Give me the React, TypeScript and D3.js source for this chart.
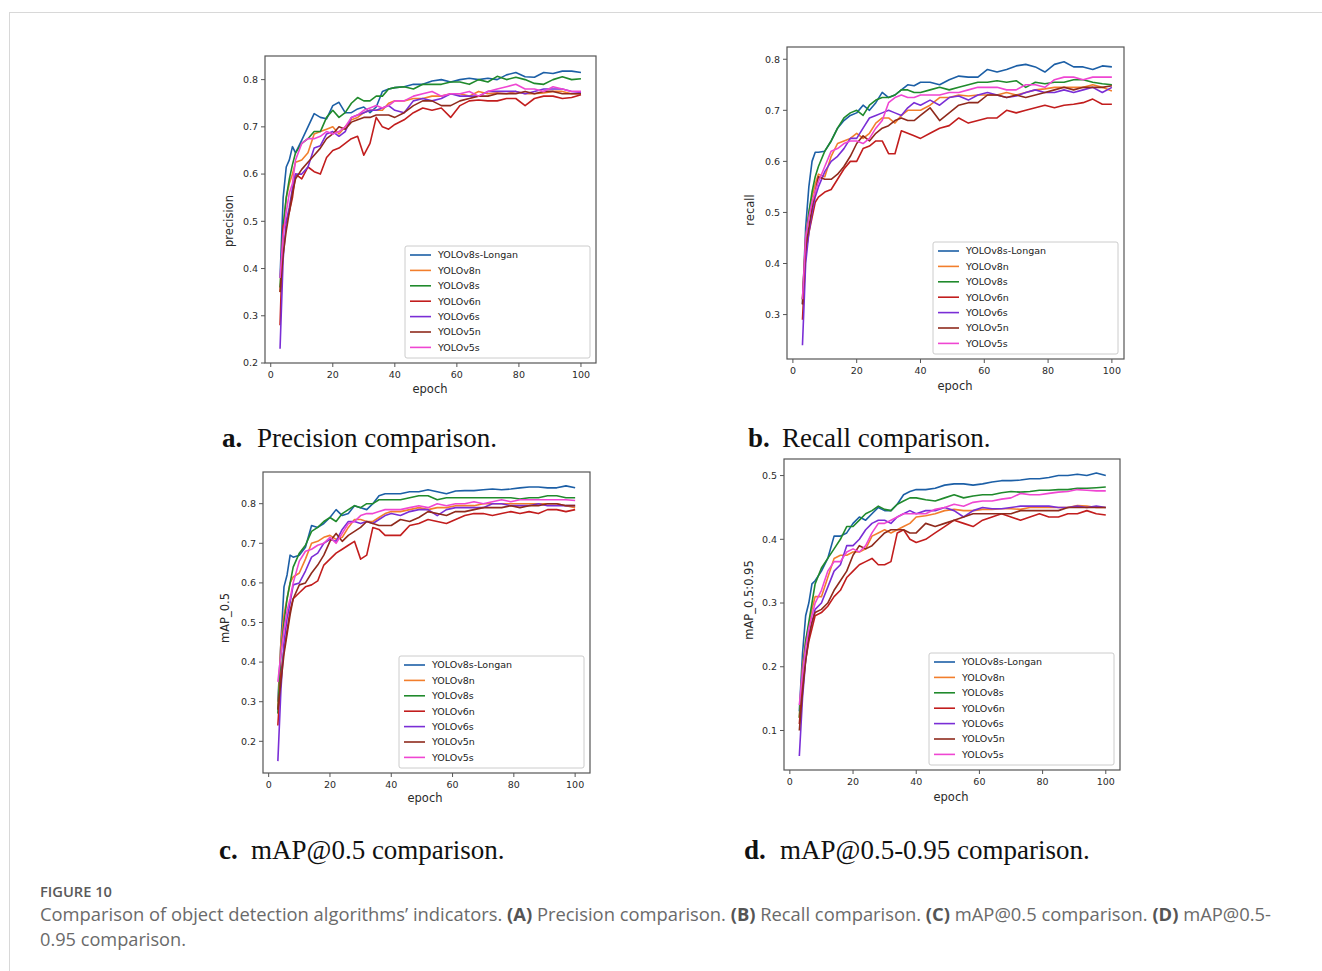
import React from 'react';
import * as d3 from 'd3';

// epochs sampled from the curves (first point is epoch 3)
const EPOCHS = [3, 4, 5, 6, 7, 8,
  10, 12, 14, 16, 18, 20, 22, 24, 26, 28, 30, 32, 34, 36, 38, 40,
  43, 46, 49, 52, 55, 58, 61, 64, 67, 70, 73, 76, 79, 82, 85, 88, 91, 94, 97, 100];

const MODELS = ['YOLOv8s-Longan', 'YOLOv8n', 'YOLOv8s', 'YOLOv6n', 'YOLOv6s', 'YOLOv5n', 'YOLOv5s'];
const COLORS = ['#1c5fa6', '#f27e2c', '#208a2c', '#c21d1d', '#7a2ed6', '#8f2a1c', '#ef46d2'];

const X_TICKS = [0, 20, 40, 60, 80, 100];

// one row per model, same order as MODELS
const PRECISION = [
  [0.38, 0.55, 0.615, 0.63, 0.658, 0.645, 0.672, 0.70, 0.728, 0.72, 0.717, 0.745, 0.752, 0.73, 0.73, 0.738, 0.742, 0.73, 0.742, 0.775, 0.78, 0.783, 0.785, 0.79, 0.79, 0.797, 0.80, 0.795, 0.80, 0.803, 0.80, 0.803, 0.80, 0.81, 0.815, 0.806, 0.805, 0.815, 0.813, 0.818, 0.818, 0.815],
  [0.35, 0.48, 0.55, 0.58, 0.60, 0.625, 0.63, 0.645, 0.685, 0.69, 0.695, 0.70, 0.685, 0.70, 0.715, 0.72, 0.73, 0.735, 0.735, 0.735, 0.75, 0.755, 0.755, 0.76, 0.76, 0.765, 0.765, 0.77, 0.77, 0.765, 0.775, 0.77, 0.772, 0.77, 0.775, 0.77, 0.77, 0.772, 0.775, 0.775, 0.77, 0.77],
  [0.36, 0.49, 0.55, 0.59, 0.62, 0.645, 0.665, 0.675, 0.69, 0.69, 0.72, 0.735, 0.72, 0.73, 0.75, 0.762, 0.755, 0.755, 0.765, 0.765, 0.78, 0.783, 0.785, 0.78, 0.79, 0.79, 0.79, 0.795, 0.795, 0.79, 0.80, 0.795, 0.807, 0.80, 0.805, 0.80, 0.792, 0.79, 0.80, 0.806, 0.80, 0.802],
  [0.28, 0.49, 0.50, 0.52, 0.55, 0.60, 0.59, 0.615, 0.605, 0.60, 0.635, 0.65, 0.655, 0.665, 0.675, 0.68, 0.64, 0.665, 0.72, 0.70, 0.695, 0.705, 0.715, 0.73, 0.74, 0.735, 0.74, 0.72, 0.745, 0.755, 0.757, 0.755, 0.755, 0.76, 0.76, 0.745, 0.76, 0.765, 0.765, 0.76, 0.762, 0.768],
  [0.23, 0.42, 0.50, 0.53, 0.57, 0.60, 0.60, 0.615, 0.655, 0.66, 0.685, 0.69, 0.68, 0.69, 0.72, 0.725, 0.73, 0.735, 0.735, 0.74, 0.745, 0.735, 0.73, 0.755, 0.76, 0.755, 0.76, 0.77, 0.765, 0.765, 0.765, 0.775, 0.775, 0.775, 0.775, 0.77, 0.775, 0.78, 0.78, 0.78, 0.775, 0.773],
  [0.35, 0.43, 0.48, 0.52, 0.56, 0.59, 0.61, 0.625, 0.64, 0.655, 0.675, 0.685, 0.70, 0.695, 0.71, 0.715, 0.72, 0.72, 0.725, 0.725, 0.725, 0.72, 0.73, 0.745, 0.755, 0.755, 0.745, 0.745, 0.755, 0.76, 0.765, 0.765, 0.77, 0.77, 0.77, 0.775, 0.77, 0.775, 0.775, 0.77, 0.77, 0.77],
  [0.38, 0.47, 0.52, 0.56, 0.58, 0.63, 0.665, 0.675, 0.675, 0.68, 0.69, 0.685, 0.69, 0.70, 0.72, 0.725, 0.735, 0.74, 0.745, 0.74, 0.745, 0.755, 0.755, 0.765, 0.77, 0.775, 0.765, 0.77, 0.77, 0.775, 0.765, 0.775, 0.78, 0.785, 0.79, 0.78, 0.78, 0.775, 0.785, 0.78, 0.775, 0.775],
];

const RECALL = [
  [0.32, 0.47, 0.55, 0.60, 0.618, 0.618, 0.62, 0.64, 0.665, 0.68, 0.69, 0.695, 0.71, 0.70, 0.715, 0.735, 0.725, 0.73, 0.74, 0.75, 0.748, 0.755, 0.755, 0.75, 0.76, 0.767, 0.765, 0.765, 0.78, 0.775, 0.78, 0.787, 0.79, 0.785, 0.775, 0.79, 0.795, 0.785, 0.785, 0.78, 0.787, 0.785],
  [0.33, 0.45, 0.50, 0.53, 0.555, 0.575, 0.57, 0.61, 0.635, 0.64, 0.645, 0.655, 0.645, 0.655, 0.675, 0.685, 0.685, 0.675, 0.69, 0.70, 0.70, 0.70, 0.71, 0.725, 0.725, 0.73, 0.728, 0.73, 0.73, 0.73, 0.735, 0.73, 0.735, 0.74, 0.742, 0.745, 0.745, 0.745, 0.745, 0.75, 0.745, 0.738],
  [0.33, 0.44, 0.50, 0.54, 0.57, 0.59, 0.62, 0.64, 0.665, 0.685, 0.695, 0.70, 0.69, 0.71, 0.72, 0.725, 0.725, 0.73, 0.74, 0.74, 0.735, 0.735, 0.74, 0.745, 0.74, 0.745, 0.75, 0.755, 0.755, 0.758, 0.755, 0.758, 0.745, 0.755, 0.752, 0.755, 0.755, 0.76, 0.76, 0.755, 0.752, 0.75],
  [0.29, 0.42, 0.46, 0.49, 0.52, 0.53, 0.54, 0.545, 0.565, 0.585, 0.60, 0.60, 0.625, 0.63, 0.64, 0.64, 0.615, 0.615, 0.66, 0.655, 0.65, 0.645, 0.655, 0.665, 0.67, 0.685, 0.675, 0.68, 0.685, 0.685, 0.70, 0.695, 0.70, 0.705, 0.71, 0.705, 0.71, 0.712, 0.715, 0.722, 0.712, 0.712],
  [0.24, 0.40, 0.46, 0.50, 0.53, 0.55, 0.58, 0.60, 0.61, 0.625, 0.645, 0.645, 0.665, 0.685, 0.69, 0.695, 0.70, 0.695, 0.69, 0.705, 0.715, 0.71, 0.72, 0.71, 0.725, 0.728, 0.72, 0.73, 0.735, 0.73, 0.725, 0.728, 0.735, 0.74, 0.735, 0.735, 0.74, 0.735, 0.74, 0.745, 0.735, 0.745],
  [0.32, 0.43, 0.47, 0.51, 0.54, 0.57, 0.565, 0.565, 0.575, 0.59, 0.61, 0.635, 0.65, 0.64, 0.655, 0.665, 0.67, 0.68, 0.685, 0.68, 0.68, 0.69, 0.705, 0.68, 0.695, 0.71, 0.715, 0.715, 0.73, 0.73, 0.725, 0.73, 0.725, 0.73, 0.735, 0.74, 0.745, 0.74, 0.745, 0.745, 0.745, 0.748],
  [0.33, 0.45, 0.49, 0.52, 0.54, 0.56, 0.59, 0.62, 0.625, 0.635, 0.64, 0.64, 0.635, 0.645, 0.665, 0.68, 0.715, 0.725, 0.73, 0.725, 0.725, 0.73, 0.73, 0.73, 0.735, 0.735, 0.74, 0.745, 0.745, 0.745, 0.74, 0.74, 0.75, 0.75, 0.745, 0.76, 0.765, 0.765, 0.76, 0.765, 0.765, 0.765],
];

const MAP50 = [
  [0.30, 0.45, 0.59, 0.62, 0.67, 0.665, 0.67, 0.69, 0.745, 0.74, 0.75, 0.765, 0.785, 0.77, 0.775, 0.795, 0.79, 0.785, 0.80, 0.82, 0.825, 0.825, 0.825, 0.83, 0.83, 0.835, 0.83, 0.825, 0.832, 0.833, 0.833, 0.835, 0.837, 0.835, 0.837, 0.84, 0.842, 0.842, 0.84, 0.84, 0.845, 0.84],
  [0.28, 0.45, 0.52, 0.56, 0.60, 0.615, 0.625, 0.66, 0.70, 0.705, 0.715, 0.72, 0.71, 0.715, 0.74, 0.76, 0.76, 0.755, 0.755, 0.765, 0.775, 0.78, 0.78, 0.785, 0.79, 0.785, 0.79, 0.79, 0.795, 0.795, 0.795, 0.80, 0.80, 0.80, 0.80, 0.80, 0.80, 0.80, 0.80, 0.80, 0.795, 0.79],
  [0.27, 0.42, 0.50, 0.56, 0.60, 0.64, 0.675, 0.695, 0.73, 0.74, 0.755, 0.765, 0.755, 0.775, 0.785, 0.795, 0.79, 0.80, 0.80, 0.81, 0.81, 0.81, 0.81, 0.815, 0.82, 0.82, 0.81, 0.815, 0.815, 0.815, 0.815, 0.815, 0.815, 0.815, 0.815, 0.812, 0.815, 0.815, 0.82, 0.82, 0.815, 0.815],
  [0.24, 0.37, 0.43, 0.48, 0.53, 0.56, 0.575, 0.59, 0.595, 0.605, 0.645, 0.66, 0.675, 0.685, 0.695, 0.705, 0.66, 0.67, 0.74, 0.735, 0.72, 0.72, 0.72, 0.745, 0.75, 0.76, 0.755, 0.75, 0.76, 0.77, 0.775, 0.775, 0.77, 0.775, 0.78, 0.775, 0.78, 0.775, 0.785, 0.785, 0.78, 0.785],
  [0.15, 0.33, 0.45, 0.51, 0.55, 0.595, 0.60, 0.63, 0.665, 0.675, 0.70, 0.71, 0.705, 0.735, 0.755, 0.755, 0.75, 0.755, 0.75, 0.76, 0.77, 0.775, 0.77, 0.78, 0.785, 0.785, 0.77, 0.785, 0.79, 0.79, 0.79, 0.79, 0.80, 0.80, 0.795, 0.795, 0.795, 0.80, 0.795, 0.795, 0.795, 0.795],
  [0.28, 0.35, 0.42, 0.47, 0.52, 0.56, 0.595, 0.60, 0.625, 0.645, 0.67, 0.705, 0.725, 0.705, 0.72, 0.73, 0.74, 0.755, 0.75, 0.745, 0.745, 0.745, 0.76, 0.755, 0.765, 0.78, 0.775, 0.77, 0.78, 0.78, 0.785, 0.79, 0.79, 0.79, 0.795, 0.79, 0.795, 0.795, 0.80, 0.80, 0.795, 0.795],
  [0.35, 0.42, 0.48, 0.53, 0.56, 0.60, 0.655, 0.68, 0.685, 0.695, 0.70, 0.715, 0.70, 0.725, 0.75, 0.755, 0.77, 0.775, 0.775, 0.78, 0.785, 0.785, 0.785, 0.79, 0.795, 0.79, 0.80, 0.795, 0.80, 0.80, 0.805, 0.80, 0.805, 0.81, 0.805, 0.81, 0.81, 0.81, 0.81, 0.81, 0.81, 0.808],
];

const MAP5095 = [
  [0.13, 0.22, 0.28, 0.30, 0.33, 0.335, 0.35, 0.37, 0.405, 0.405, 0.41, 0.425, 0.435, 0.43, 0.44, 0.45, 0.445, 0.445, 0.455, 0.47, 0.475, 0.478, 0.478, 0.48, 0.485, 0.487, 0.487, 0.485, 0.487, 0.49, 0.492, 0.492, 0.493, 0.495, 0.495, 0.497, 0.50, 0.50, 0.502, 0.50, 0.504, 0.50],
  [0.12, 0.20, 0.24, 0.265, 0.29, 0.31, 0.31, 0.34, 0.37, 0.375, 0.375, 0.38, 0.38, 0.385, 0.405, 0.41, 0.415, 0.41, 0.415, 0.42, 0.425, 0.435, 0.437, 0.44, 0.445, 0.447, 0.445, 0.445, 0.447, 0.447, 0.448, 0.448, 0.447, 0.45, 0.45, 0.45, 0.45, 0.45, 0.453, 0.452, 0.45, 0.45],
  [0.12, 0.19, 0.24, 0.27, 0.30, 0.33, 0.355, 0.37, 0.385, 0.40, 0.42, 0.42, 0.43, 0.44, 0.445, 0.452, 0.447, 0.445, 0.455, 0.46, 0.465, 0.465, 0.462, 0.46, 0.465, 0.47, 0.465, 0.468, 0.47, 0.47, 0.473, 0.475, 0.474, 0.475, 0.477, 0.477, 0.478, 0.478, 0.48, 0.48, 0.481, 0.482],
  [0.11, 0.17, 0.21, 0.24, 0.26, 0.28, 0.285, 0.295, 0.31, 0.32, 0.34, 0.35, 0.36, 0.365, 0.37, 0.36, 0.36, 0.365, 0.41, 0.415, 0.40, 0.395, 0.40, 0.41, 0.42, 0.43, 0.425, 0.42, 0.43, 0.435, 0.44, 0.435, 0.43, 0.435, 0.44, 0.435, 0.435, 0.44, 0.44, 0.445, 0.44, 0.438],
  [0.06, 0.15, 0.21, 0.25, 0.27, 0.29, 0.30, 0.325, 0.35, 0.36, 0.39, 0.39, 0.40, 0.415, 0.425, 0.43, 0.43, 0.425, 0.435, 0.44, 0.445, 0.44, 0.445, 0.445, 0.45, 0.445, 0.435, 0.445, 0.45, 0.448, 0.448, 0.45, 0.452, 0.452, 0.452, 0.452, 0.45, 0.45, 0.452, 0.45, 0.452, 0.45],
  [0.10, 0.16, 0.21, 0.245, 0.27, 0.285, 0.29, 0.30, 0.32, 0.335, 0.35, 0.375, 0.39, 0.385, 0.39, 0.40, 0.41, 0.415, 0.415, 0.415, 0.41, 0.41, 0.425, 0.42, 0.425, 0.43, 0.435, 0.44, 0.44, 0.44, 0.44, 0.44, 0.445, 0.445, 0.445, 0.445, 0.445, 0.45, 0.45, 0.45, 0.45, 0.45],
  [0.14, 0.19, 0.23, 0.26, 0.28, 0.30, 0.32, 0.35, 0.365, 0.365, 0.38, 0.385, 0.38, 0.39, 0.41, 0.425, 0.425, 0.43, 0.435, 0.44, 0.44, 0.44, 0.44, 0.447, 0.45, 0.455, 0.452, 0.458, 0.46, 0.46, 0.463, 0.465, 0.472, 0.47, 0.47, 0.472, 0.474, 0.475, 0.478, 0.477, 0.476, 0.476],
];

const PANELS = [
  {
    key: 'a', data: PRECISION, box: { x: 265, y: 56, w: 331, h: 307 }, xDomain: [-1.85, 104.85],
    yDomain: [0.2, 0.85], yTicks: [0.2, 0.3, 0.4, 0.5, 0.6, 0.7, 0.8], yLabel: 'precision', yLabelAt: [229, 221],
    xLabelAt: [430, 393], letter: 'a.', caption: 'Precision comparison.', capAt: [222, 447], capGap: 35,
  },
  {
    key: 'b', data: RECALL, box: { x: 787, y: 47, w: 337, h: 312 }, xDomain: [-1.85, 103.8],
    yDomain: [0.213, 0.824], yTicks: [0.3, 0.4, 0.5, 0.6, 0.7, 0.8], yLabel: 'recall', yLabelAt: [750, 210],
    xLabelAt: [955, 390], letter: 'b.', caption: 'Recall comparison.', capAt: [748, 447], capGap: 34,
  },
  {
    key: 'c', data: MAP50, box: { x: 263, y: 472, w: 327, h: 301 }, xDomain: [-1.85, 104.85],
    yDomain: [0.12, 0.88], yTicks: [0.2, 0.3, 0.4, 0.5, 0.6, 0.7, 0.8], yLabel: 'mAP_0.5', yLabelAt: [225, 618],
    xLabelAt: [425, 802], letter: 'c.', caption: 'mAP@0.5 comparison.', capAt: [219, 859], capGap: 32,
  },
  {
    key: 'd', data: MAP5095, box: { x: 784, y: 459, w: 336, h: 311 }, xDomain: [-1.85, 104.5],
    yDomain: [0.038, 0.526], yTicks: [0.1, 0.2, 0.3, 0.4, 0.5], yLabel: 'mAP_0.5:0.95', yLabelAt: [749, 600],
    xLabelAt: [951, 801], letter: 'd.', caption: 'mAP@0.5-0.95 comparison.', capAt: [744, 859], capGap: 36,
  },
];

const TICK_FONT = 'DejaVu Sans, sans-serif';

function Panel({ p }) {
  const { box } = p;
  const x = d3.scaleLinear().domain(p.xDomain).range([box.x, box.x + box.w]);
  const y = d3.scaleLinear().domain(p.yDomain).range([box.y + box.h, box.y]);
  const line = d3.line<number>().x((_, i) => x(EPOCHS[i])).y(d => y(d));

  // legend sits in the lower right corner of the axes
  const lw = 185, lh = 112, rowH = 15.4;
  const lx = box.x + box.w - 6 - lw;
  const ly = box.y + box.h - 5 - lh;

  return (
    <g>
      {p.data.map((vals, i) => (
        <path key={i} d={line(vals)} fill="none" stroke={COLORS[i]} strokeWidth={1.6} strokeLinejoin="round" />
      ))}

      <rect x={box.x} y={box.y} width={box.w} height={box.h} fill="none" stroke="#555" strokeWidth={1.2} />

      {X_TICKS.map(t => (
        <g key={t}>
          <line x1={x(t)} x2={x(t)} y1={box.y + box.h} y2={box.y + box.h + 4} stroke="#555" />
          <text x={x(t)} y={box.y + box.h + 15} textAnchor="middle" fontSize={9.5} fontFamily={TICK_FONT} fill="#2a2a2a">{t}</text>
        </g>
      ))}
      {p.yTicks.map(t => (
        <g key={t}>
          <line x1={box.x - 4} x2={box.x} y1={y(t)} y2={y(t)} stroke="#555" />
          <text x={box.x - 7} y={y(t)} dy="0.35em" textAnchor="end" fontSize={9.5} fontFamily={TICK_FONT} fill="#2a2a2a">{d3.format('.1f')(t)}</text>
        </g>
      ))}

      <text x={p.xLabelAt[0]} y={p.xLabelAt[1]} textAnchor="middle" fontSize={11.5} fontFamily={TICK_FONT} fill="#2a2a2a">epoch</text>
      <text transform={`translate(${p.yLabelAt[0]},${p.yLabelAt[1]}) rotate(-90)`} dy="0.35em" textAnchor="middle" fontSize={11.5} fontFamily={TICK_FONT} fill="#2a2a2a">{p.yLabel}</text>

      <rect x={lx} y={ly} width={lw} height={lh} rx={2} fill="#fff" fillOpacity={0.85} stroke="#ccc" strokeWidth={1} />
      {MODELS.map((m, i) => {
        const ry = ly + 9 + i * rowH;
        return (
          <g key={m}>
            <line x1={lx + 5} x2={lx + 26} y1={ry} y2={ry} stroke={COLORS[i]} strokeWidth={1.6} />
            <text x={lx + 33} y={ry} dy="0.35em" fontSize={9.5} fontFamily={TICK_FONT} fill="#222">{m}</text>
          </g>
        );
      })}

      <text x={p.capAt[0]} y={p.capAt[1]} fontFamily="Liberation Serif, Times New Roman, serif" fontSize={27} fill="#111">
        <tspan fontWeight="bold">{p.letter}</tspan>
      </text>
      <text x={p.capAt[0] + p.capGap} y={p.capAt[1]} fontFamily="Liberation Serif, Times New Roman, serif" fontSize={27} fill="#111">{p.caption}</text>
    </g>
  );
}

export default function App() {
  const capFont = 'Open Sans, Lato, sans-serif';
  return (
    <div style={{ position: 'absolute', left: 0, top: 0, width: 1322, height: 971, background: '#fff' }}>
      <svg width={1322} height={971} style={{ display: 'block' }}>
        <rect x={9.5} y={12.5} width={1400} height={1000} fill="none" stroke="#d8d8d8" strokeWidth={1} />
        {PANELS.map(p => <Panel key={p.key} p={p} />)}

        <text x={40} y={897} fontFamily={capFont} fontSize={14} fontWeight={600} fill="#5a5a5a" textLength={72} lengthAdjust="spacingAndGlyphs">FIGURE 10</text>
        <text x={40} y={921} fontFamily={capFont} fontSize={17.5} fill="#6a6a6a" textLength={1231} lengthAdjust="spacingAndGlyphs">
          Comparison of object detection algorithms’ indicators. <tspan fontWeight="bold" fill="#555">(A)</tspan> Precision comparison. <tspan fontWeight="bold" fill="#555">(B)</tspan> Recall comparison. <tspan fontWeight="bold" fill="#555">(C)</tspan> mAP@0.5 comparison. <tspan fontWeight="bold" fill="#555">(D)</tspan> mAP@0.5-
        </text>
        <text x={40} y={946} fontFamily={capFont} fontSize={17.5} fill="#6a6a6a" textLength={146} lengthAdjust="spacingAndGlyphs">0.95 comparison.</text>
      </svg>
    </div>
  );
}
